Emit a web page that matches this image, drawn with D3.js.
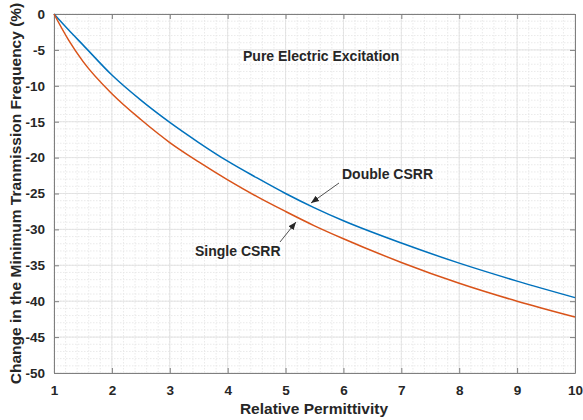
<html>
<head>
<meta charset="utf-8">
<script src="https://d3js.org/d3.v7.min.js"></script>
<style>
  body { margin: 0; padding: 0; background: #fff; }
  text { font-family: Arial, "Liberation Sans", sans-serif; font-weight: bold; fill: #262626; }
</style>
</head>
<body>
<script>
// data
var permittivity = [1, 1.25, 1.5, 2, 2.5, 3, 3.5, 4, 4.5, 5, 5.5, 6, 7, 8, 9, 10];
var doubleCSRR = [0, -2.2, -4.3, -8.5, -12.0, -15.1, -17.9, -20.5, -22.8, -25.0, -27.0, -28.8, -31.9, -34.7, -37.2, -39.5];
var singleCSRR = [0, -3.6, -6.6, -11.1, -14.7, -17.9, -20.6, -23.1, -25.4, -27.5, -29.5, -31.3, -34.6, -37.5, -40.0, -42.2];
var xTicks = [1, 2, 3, 4, 5, 6, 7, 8, 9, 10];
var yTicks = [0, -5, -10, -15, -20, -25, -30, -35, -40, -45, -50];

var width = 583, height = 420;
var margin = {left: 54, right: 8, top: 14, bottom: 47};

var svg = d3.select("body").append("svg")
    .attr("width", width)
    .attr("height", height);

var x = d3.scaleLinear().domain([1, 10]).range([margin.left, width - margin.right]);
var y = d3.scaleLinear().domain([-50, 0]).range([height - margin.bottom, margin.top]);

var x0 = x.range()[0], x1 = x.range()[1], y0 = y.range()[1], y1 = y.range()[0];

// minor grid
var g = svg.append("g");
g.selectAll(".mx").data(d3.range(1, 10.001, 0.2)).enter().append("line")
    .attr("x1", d => x(d)).attr("x2", d => x(d)).attr("y1", y0).attr("y2", y1)
    .attr("stroke", "#e4e4e4").attr("stroke-width", 0.8).attr("stroke-dasharray", "1.5,1.5");
g.selectAll(".my").data(d3.range(-50, 0.001, 1)).enter().append("line")
    .attr("y1", d => y(d)).attr("y2", d => y(d)).attr("x1", x0).attr("x2", x1)
    .attr("stroke", "#e4e4e4").attr("stroke-width", 0.8).attr("stroke-dasharray", "1.5,1.5");
// major grid
g.selectAll(".Mx").data(xTicks).enter().append("line")
    .attr("x1", d => x(d)).attr("x2", d => x(d)).attr("y1", y0).attr("y2", y1)
    .attr("stroke", "#dedede").attr("stroke-width", 0.8);
g.selectAll(".My").data(yTicks).enter().append("line")
    .attr("y1", d => y(d)).attr("y2", d => y(d)).attr("x1", x0).attr("x2", x1)
    .attr("stroke", "#dedede").attr("stroke-width", 0.8);

// axes with inward ticks on all sides
function styleAxis(sel) {
  sel.select(".domain").attr("stroke", "#7f7f7f");
  sel.selectAll(".tick line").attr("stroke", "#7f7f7f");
  sel.selectAll("text").attr("font-size", 13.5).attr("fill", "#262626")
     .attr("font-family", "Arial, 'Liberation Sans', sans-serif").attr("font-weight", "bold");
}
var fmt = d => String(d);
svg.append("g").attr("transform", "translate(0," + y1 + ")")
   .call(d3.axisBottom(x).tickValues(xTicks).tickFormat(fmt).tickSizeInner(-5).tickSizeOuter(0).tickPadding(12))
   .call(styleAxis);
svg.append("g").attr("transform", "translate(0," + y0 + ")")
   .call(d3.axisTop(x).tickValues(xTicks).tickSizeInner(-5).tickSizeOuter(0).tickFormat(""))
   .call(styleAxis);
svg.append("g").attr("transform", "translate(" + x0 + ",0)")
   .call(d3.axisLeft(y).tickValues(yTicks).tickFormat(fmt).tickSizeInner(-5).tickSizeOuter(0).tickPadding(9))
   .call(styleAxis);
svg.append("g").attr("transform", "translate(" + x1 + ",0)")
   .call(d3.axisRight(y).tickValues(yTicks).tickSizeInner(-5).tickSizeOuter(0).tickFormat(""))
   .call(styleAxis);

// curves
var line = d3.line()
    .x((d, i) => x(permittivity[i]))
    .y(d => y(d))
    .curve(d3.curveMonotoneX);

svg.append("path").datum(doubleCSRR).attr("d", line)
   .attr("fill", "none").attr("stroke", "#0072BD").attr("stroke-width", 1.5);
svg.append("path").datum(singleCSRR).attr("d", line)
   .attr("fill", "none").attr("stroke", "#D95319").attr("stroke-width", 1.5);

// annotations
svg.append("defs").append("marker")
   .attr("id", "arr").attr("viewBox", "0 0 10 10").attr("refX", 10).attr("refY", 5)
   .attr("markerWidth", 8).attr("markerHeight", 8).attr("orient", "auto")
   .attr("markerUnits", "userSpaceOnUse")
   .append("path").attr("d", "M0,1 L10,5 L0,9 Z").attr("fill", "#262626");

svg.append("text").attr("x", 243).attr("y", 61).attr("font-size", 14).text("Pure Electric Excitation");

svg.append("text").attr("x", 342).attr("y", 179).attr("font-size", 14).text("Double CSRR");
svg.append("line").attr("x1", 339).attr("y1", 183).attr("x2", 311).attr("y2", 203)
   .attr("stroke", "#262626").attr("stroke-width", 0.8).attr("marker-end", "url(#arr)");

svg.append("text").attr("x", 195).attr("y", 256).attr("font-size", 14).text("Single CSRR");
svg.append("line").attr("x1", 280).attr("y1", 242).attr("x2", 296).attr("y2", 222)
   .attr("stroke", "#262626").attr("stroke-width", 0.8).attr("marker-end", "url(#arr)");

// axis titles
svg.append("text").attr("x", 314).attr("y", 414).attr("text-anchor", "middle")
   .attr("font-size", 15.5).text("Relative Permittivity");
svg.append("text").attr("transform", "translate(21," + ((y0 + y1) / 2) + ") rotate(-90)")
   .attr("text-anchor", "middle").attr("font-size", 15.5)
   .text("Change in the Minimum Tranmission Frequency (%)");
</script>
</body>
</html>
